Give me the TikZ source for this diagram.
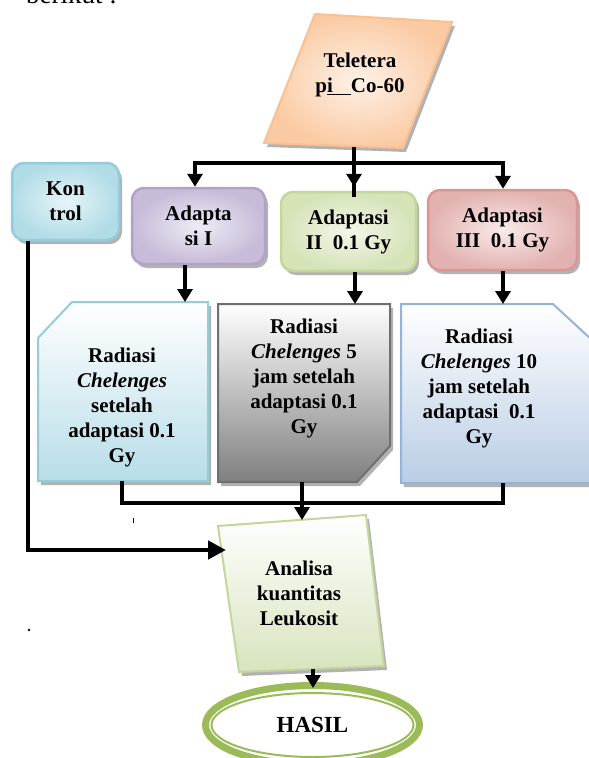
\documentclass[tikz,border=0pt]{standalone}
\usepackage{fontspec}
\setmainfont{Liberation Serif}
\usetikzlibrary{arrows.meta,shadows,shapes.geometric}
\definecolor{konB}{HTML}{93CDDD}
\definecolor{konL}{HTML}{E6F4F8}
\definecolor{konD}{HTML}{9AD2DF}
\definecolor{purB}{HTML}{B3A2C7}
\definecolor{purL}{HTML}{EFEBF5}
\definecolor{purD}{HTML}{B5A6CC}
\definecolor{grnB}{HTML}{C3D69B}
\definecolor{grnL}{HTML}{F2F7E9}
\definecolor{grnD}{HTML}{C8DAA2}
\definecolor{redB}{HTML}{D99694}
\definecolor{redL}{HTML}{F8EAEA}
\definecolor{redD}{HTML}{D99A98}
\definecolor{oraB}{HTML}{FAC090}
\definecolor{oraL}{HTML}{FEF1E6}
\definecolor{oraD}{HTML}{F9C192}
\definecolor{cyanB}{HTML}{92CDDC}
\definecolor{cyanD}{HTML}{B7DDE8}
\definecolor{grayB}{HTML}{6F6F6F}
\definecolor{grayD}{HTML}{7F7F7F}
\definecolor{bluB}{HTML}{95B3D7}
\definecolor{bluD}{HTML}{B9CDE5}
\definecolor{anaB}{HTML}{C3D69B}
\definecolor{anaD}{HTML}{D7E4BD}
\definecolor{hasG}{HTML}{9BBB59}
\begin{document}
\begin{tikzpicture}[x=1pt,y=-1pt,
 shad/.style={drop shadow={shadow xshift=3pt,shadow yshift=-4pt,fill=black,opacity=.3}},
 lbl/.style={font=\fontsize{21}{25}\selectfont\bfseries, align=center, inner sep=0pt},
 topbox/.style n args={3}{draw=#1, line width=2.5pt, rounded corners=12pt,
   inner color=#3, outer color=#2!70!#3, shad, lbl},
 shapebox/.style={line width=2pt, shad},
 conn/.style={line width=4pt},
 arr/.style={line width=4pt, -{Triangle[width=15pt,length=13pt]}},
 bigarr/.style={line width=4.5pt, line join=miter, -{Triangle[width=18pt,length=18pt]}},
]
\useasboundingbox (0,0) rectangle (589,758);

% partial text at the top
\node[anchor=base west, inner sep=0pt, font=\fontsize{27}{30}\selectfont] (ber) at (26,3) {berikut :};

% Teletera
\path[draw=oraB, shapebox, inner color=oraL, outer color=oraD!80!oraL] (315,14) -- (452,22) -- (403,148) -- (264,143) -- cycle;
\node[lbl] (tel) at (360,75) {Teletera\\p\underline{i\hspace{18pt}}Co-60};
\coordinate (tb) at (354,147);

% top boxes
\node[topbox={konB}{konD}{konL}, minimum width=107pt, minimum height=77pt] (kon) at (65.5,201.5) {Kon\\trol};
\node[topbox={purB}{purD}{purL}, minimum width=133pt, minimum height=76pt] (ad1) at (198.5,226) {Adapta\\si I};
\node[topbox={grnB}{grnD}{grnL}, minimum width=135pt, minimum height=79pt] (ad2) at (348.5,231.5) {Adaptasi\\II\ \ 0.1 Gy};
\node[topbox={redB}{redD}{redL}, minimum width=149pt, minimum height=80pt] (ad3) at (502.5,230) {Adaptasi\\III\ \ 0.1 Gy};

% Radiasi boxes
\path[draw=cyanB, shapebox, top color=white, bottom color=cyanD] (38,338) -- (72,302) -- (208,302) -- (208,481) -- (38,481) -- cycle;
\node[lbl] (r1) at (122,407) {Radiasi\\\textit{Chelenges}\\setelah\\adaptasi 0.1\\Gy};
\path[draw=grayB, shapebox, top color=white, bottom color=grayD] (218,304) -- (390,304) -- (390,446) -- (357,482) -- (218,482) -- cycle;
\node[lbl] (r2) at (304,378) {Radiasi\\\textit{Chelenges} 5\\jam setelah\\adaptasi 0.1\\Gy};
\path[draw=bluB, shapebox, top color=white, bottom color=bluD] (401,304) -- (553,304) -- (592,340) -- (592,483) -- (401,483) -- cycle;
\node[lbl] (r3) at (479,388) {Radiasi\\\textit{Chelenges} 10\\jam setelah\\adaptasi\ \ 0.1\\Gy};

% Analisa
\path[draw=anaB, shapebox, top color=white, bottom color=anaD] (218,526) -- (366,515) -- (384,666) -- (239,672) -- cycle;
\node[lbl] (ana) at (299,593) {Analisa\\kuantitas\\Leukosit};

% HASIL
\node[ellipse, draw=hasG, line width=7pt, fill=white, minimum width=214pt, minimum height=79pt, inner sep=0pt, font=\fontsize{23}{28}\selectfont\bfseries] (hasil) at (312.5,725) {HASIL};
\draw[hasG, line width=2pt] (hasil.center) ellipse [x radius=101, y radius=32];

% connectors top
\coordinate (jL) at (195,163);
\coordinate (jM) at (354,163);
\coordinate (jR) at (503,163);
\coordinate (ad2in) at (354,197);
\draw[conn] (tb) -- (jM);
\draw[conn, line cap=rect] (jL) -- (jR);
\draw[arr] (jL) -- (jL |- ad1.north);
\draw[arr, shorten >=4pt] (jM) -- (jM |- ad2.north);
\draw[conn] (jM) -- (ad2in);
\draw[arr] (jR) -- (jR |- ad3.north);

% down to radiasi
\coordinate (r1top) at (185,302);
\coordinate (r2top) at (355,304);
\coordinate (r3top) at (503,304);
\draw[arr] (r1top |- ad1.south) -- (r1top);
\draw[arr] (r2top |- ad2.south) -- (r2top);
\draw[arr] (r3top |- ad3.south) -- (r3top);

% merge to analisa
\coordinate (r1bot) at (122,481);
\coordinate (r2bot) at (302,482);
\coordinate (r3bot) at (503,483);
\coordinate (mL) at (122,503);
\coordinate (mR) at (503,503);
\coordinate (antop) at (302,520);
\draw[conn, line join=miter] (r1bot) -- (mL) -- (mR) -- (r3bot);
\draw[arr] (r2bot) -- (antop);

% kontrol line
\coordinate (kc) at (28,550);
\coordinate (anleft) at (226,550);
\draw[bigarr] (kon.south -| kc) -- (kc) -- (anleft);

% analisa to hasil
\coordinate (anbot) at (313,669);
\draw[arr, shorten >=-6pt] (anbot) -- (anbot |- hasil.north);

% stray marks
\draw[line width=1pt] (133,518) -- (133,523);
\fill (29,630) circle (1.3);
\end{tikzpicture}
\end{document}
